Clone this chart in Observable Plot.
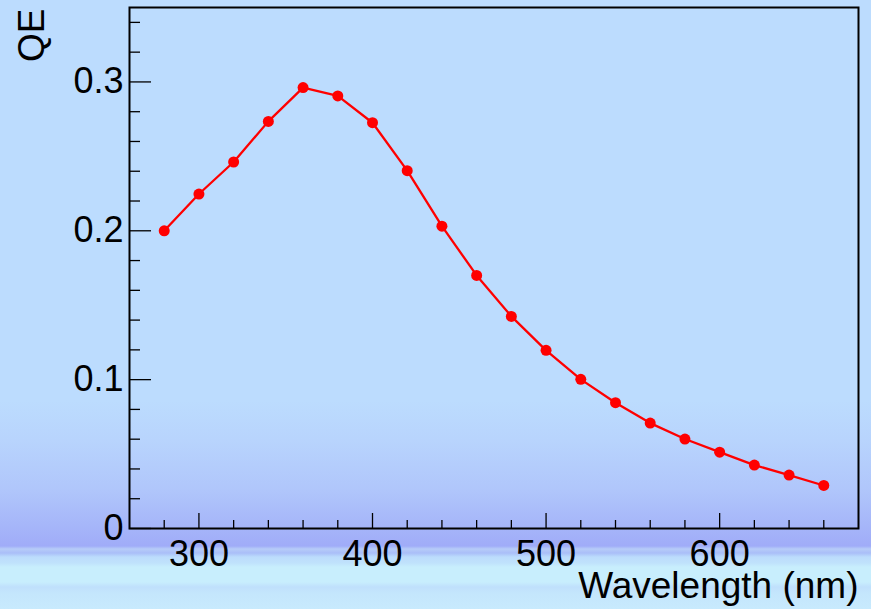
<!DOCTYPE html>
<html>
<head>
<meta charset="utf-8">
<script src="https://cdn.jsdelivr.net/npm/d3@7"></script>
<script src="https://cdn.jsdelivr.net/npm/@observablehq/plot@0.6"></script>
<style>
  html, body { margin: 0; padding: 0; }
  body { width: 871px; height: 609px; overflow: hidden; }
</style>
</head>
<body>
<div id="chart"></div>
<script>
// Data
const wavelength = [280, 300, 320, 340, 360, 380, 400, 420, 440, 460, 480, 500, 520, 540, 560, 580, 600, 620, 640, 660];
const qe = [0.200, 0.2247, 0.2462, 0.2735, 0.2962, 0.2906, 0.2726, 0.2404, 0.2031, 0.1700, 0.1425, 0.1197, 0.1002, 0.0845, 0.0708, 0.0601, 0.0513, 0.0426, 0.0359, 0.0289];

// Axis ticks
const xMajor = [300, 400, 500, 600];
const xMinor = [280, 320, 340, 360, 380, 420, 440, 460, 480, 520, 540, 560, 580, 620, 640, 660];
const yMajor = [0, 0.1, 0.2, 0.3];
const yMinor = [0.02, 0.04, 0.06, 0.08, 0.12, 0.14, 0.16, 0.18, 0.22, 0.24, 0.26, 0.28, 0.32, 0.34];
const yTickLabels = ["0", "0.1", "0.2", "0.3"];

const xTitle = "Wavelength (nm)";
const yTitle = "QE";

const table = wavelength.map((w, i) => ({wavelength: w, qe: qe[i]}));

const bg = "linear-gradient(to bottom, #bcdcfe 0px, #bcdcfe 400px, #b8d4fd 440px, #b0c6fb 490px, #a6b6f9 525px, #a0acf8 546px, #b6ccf8 549px, #aabef8 553px, #bcdcfc 557px, #c0e2fc 563px, #c8eefd 567px, #c8eefd 582px, #c0e0fc 587px, #c4e6fc 593px, #c8eafd 609px)";

const font = "'Liberation Sans', Arial, Helvetica, sans-serif";

const chart = Plot.plot({
  width: 871,
  height: 609,
  marginLeft: 129,
  marginRight: 13,
  marginTop: 7,
  marginBottom: 81,
  x: {domain: [260, 680], label: null},
  y: {domain: [0, 0.35], label: null},
  style: {background: bg, fontFamily: font, fontSize: "36px", color: "black", overflow: "visible"},
  marks: [
    // tick labels
    Plot.axisX(xMajor, {tickSize: 0, tickPadding: 12, fontSize: 36, label: null, tickFormat: d => String(d)}),
    Plot.axisY(yMajor, {tickSize: 0, tickPadding: 6, fontSize: 36, label: null, tickFormat: d => yTickLabels[yMajor.indexOf(d)]}),
    // inward ticks (ROOT style)
    Plot.ruleX(xMajor, {x: d => d, y1: 0, y2: 0, insetTop: -15, stroke: "black", strokeWidth: 1.3}),
    Plot.ruleX(xMinor, {x: d => d, y1: 0, y2: 0, insetTop: -8, stroke: "black", strokeWidth: 1.3}),
    Plot.ruleY(yMajor, {y: d => d, x1: 260, x2: 260, insetRight: -22, stroke: "black", strokeWidth: 1.3}),
    Plot.ruleY(yMinor, {y: d => d, x1: 260, x2: 260, insetRight: -11, stroke: "black", strokeWidth: 1.3}),
    Plot.frame({stroke: "black", strokeWidth: 2}),
    // data
    Plot.line(table, {x: "wavelength", y: "qe", stroke: "#ff0000", strokeWidth: 2.3}),
    Plot.dot(table, {x: "wavelength", y: "qe", r: 5.5, fill: "#ff0000", stroke: "none"}),
    // axis titles
    Plot.text([xTitle], {text: d => d, frameAnchor: "bottom-right", textAnchor: "end", lineAnchor: "bottom", dy: 69, fontSize: 37, fill: "black"}),
    Plot.text([yTitle], {text: d => d, frameAnchor: "top-left", rotate: -90, textAnchor: "end", lineAnchor: "bottom", dx: -85.5, dy: 1, fontSize: 37, fill: "black"})
  ]
});

document.getElementById("chart").appendChild(chart);
</script>
</body>
</html>
